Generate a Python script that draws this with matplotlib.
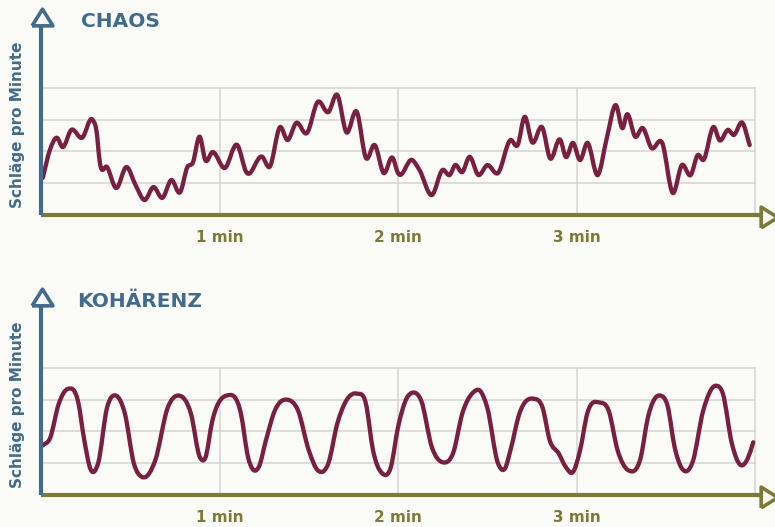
import numpy as np
import matplotlib
matplotlib.use('Agg')
import matplotlib.pyplot as plt
from matplotlib.path import Path
from matplotlib.patches import PathPatch

# time in minutes, heart rate in grid units (unlabelled axis)
chaos_t = [0.01, 0.05, 0.09, 0.12, 0.17, 0.23, 0.29, 0.31, 0.33, 0.37, 0.42, 0.48, 0.53, 0.58,
           0.63, 0.68, 0.73, 0.78, 0.82, 0.85, 0.89, 0.92, 0.96, 1.03, 1.10, 1.15, 1.24, 1.28,
           1.34, 1.38, 1.43, 1.49, 1.55, 1.61, 1.66, 1.71, 1.77, 1.82, 1.87, 1.92, 1.97, 2.00,
           2.08, 2.12, 2.19, 2.25, 2.29, 2.32, 2.36, 2.40, 2.45, 2.50, 2.56, 2.63, 2.67, 2.71,
           2.75, 2.81, 2.85, 2.91, 2.94, 2.98, 3.02, 3.06, 3.12, 3.17, 3.22, 3.26, 3.28, 3.33,
           3.37, 3.42, 3.48, 3.54, 3.59, 3.64, 3.68, 3.71, 3.77, 3.80, 3.85, 3.88, 3.93, 3.97]
chaos_v = [1.17, 2.05, 2.43, 2.14, 2.68, 2.43, 2.99, 2.68, 1.64, 1.51, 0.85, 1.51, 0.94, 0.47,
           0.88, 0.54, 1.10, 0.72, 1.51, 1.64, 2.46, 1.73, 1.98, 1.48, 2.20, 1.35, 1.83, 1.51,
           2.77, 2.36, 2.90, 2.58, 3.56, 3.24, 3.78, 2.61, 3.24, 1.80, 2.20, 1.32, 1.80, 1.32,
           1.73, 1.42, 0.63, 1.42, 1.26, 1.57, 1.35, 1.83, 1.26, 1.57, 1.32, 2.36, 2.20, 3.09,
           2.30, 2.74, 1.80, 2.36, 1.83, 2.27, 1.73, 2.27, 1.26, 2.43, 3.46, 2.74, 3.15, 2.46,
           2.74, 2.11, 2.27, 0.69, 1.57, 1.26, 1.89, 1.73, 2.77, 2.36, 2.68, 2.52, 2.90, 2.20]

koh_t = [0.01, 0.05, 0.10, 0.15, 0.21, 0.24, 0.28, 0.32, 0.37, 0.42, 0.47, 0.52, 0.57, 0.64,
         0.71, 0.77, 0.84, 0.89, 0.92, 0.96, 1.04, 1.12, 1.16, 1.22, 1.26, 1.31, 1.38, 1.44,
         1.50, 1.55, 1.61, 1.66, 1.71, 1.77, 1.82, 1.86, 1.91, 1.96, 2.00, 2.05, 2.08, 2.13,
         2.19, 2.25, 2.31, 2.36, 2.42, 2.46, 2.50, 2.56, 2.60, 2.63, 2.68, 2.76, 2.81, 2.85,
         2.90, 2.94, 2.98, 3.02, 3.06, 3.13, 3.18, 3.23, 3.29, 3.36, 3.40, 3.47, 3.51, 3.55,
         3.59, 3.65, 3.71, 3.78, 3.82, 3.87, 3.92, 3.96, 3.99]
koh_v = [1.56, 1.78, 2.88, 3.34, 2.88, 1.81, 0.78, 1.00, 2.75, 3.13, 2.56, 1.00, 0.56, 1.09,
         2.75, 3.13, 2.56, 1.19, 1.16, 2.34, 3.13, 2.56, 1.19, 0.88, 1.72, 2.66, 3.00, 2.66,
         1.41, 0.78, 1.00, 2.25, 2.97, 3.19, 2.88, 1.41, 0.69, 0.88, 2.13, 3.06, 3.22, 2.97,
         1.50, 1.03, 1.34, 2.56, 3.22, 3.28, 2.75, 1.00, 0.84, 1.41, 2.56, 3.03, 2.75, 1.72,
         1.31, 0.88, 0.72, 1.41, 2.56, 2.91, 2.66, 1.41, 0.78, 1.19, 2.44, 3.13, 2.81, 1.50,
         0.84, 1.03, 2.66, 3.44, 3.19, 1.63, 0.94, 1.16, 1.66]

minute_ticks = [1, 2, 3]
minute_labels = ['1 min', '2 min', '3 min']
grid_levels = [1, 2, 3, 4]

BG = '#fbfbf7'
BLUE = '#416b8f'
OLIVE = '#7c7b34'
WINE = '#7a1f40'
GRID = '#d5d5d5'

plt.rcParams['font.family'] = ['DejaVu Sans']

UP = [(-1.25, -1), (1.25, -1), (0, 1), (-1.25, -1)]
RIGHT = [(-1, -1.25), (-1, 1.25), (1, 0), (-1, -1.25)]


def smooth_path(t, v):
    # cubic Hermite through the read points (time as parameter), as Bezier segments
    t = np.asarray(t, float)
    v = np.asarray(v, float)
    m = np.gradient(v, t)
    verts = [(t[0], v[0])]
    codes = [Path.MOVETO]
    for i in range(len(t) - 1):
        h = (t[i + 1] - t[i]) / 3
        verts += [(t[i] + h, v[i] + m[i] * h),
                  (t[i + 1] - h, v[i + 1] - m[i + 1] * h),
                  (t[i + 1], v[i + 1])]
        codes += [Path.CURVE4] * 3
    return Path(verts, codes)


def draw_panel(ax, t, v, title, title_x):
    ax.set_facecolor(BG)
    ax.set_xlim(0, 4.112)
    ax.set_ylim(0, 6.61)
    for s in ax.spines.values():
        s.set_visible(False)
    ax.set_yticks([])
    ax.set_xticks(minute_ticks, minute_labels)
    ax.tick_params(axis='x', length=0, pad=11, labelsize=11, labelcolor=OLIVE)
    for lab in ax.get_xticklabels():
        lab.set_fontweight('bold')

    # grid box
    for g in grid_levels:
        ax.plot([0, 4], [g, g], color=GRID, lw=1.1, zorder=1)
    for m in minute_ticks + [4]:
        ax.plot([m, m], [0, 4], color=GRID, lw=1.1, zorder=1)

    ax.add_patch(PathPatch(smooth_path(t, v), fill=False, edgecolor=WINE, lw=3.1,
                           capstyle='round', joinstyle='round', zorder=3))

    # axes with hollow arrowheads
    ax.plot([0, 4.03], [0, 0], color=OLIVE, lw=3, zorder=4, clip_on=False,
            solid_capstyle='butt')
    ax.plot([4.08], [-0.05], marker=RIGHT, ms=15, mfc=BG, mec=OLIVE, mew=2.6,
            zorder=5, clip_on=False)
    ax.plot([0, 0], [0, 5.95], color=BLUE, lw=3, zorder=4, clip_on=False,
            solid_capstyle='butt')
    ax.plot([0.005], [6.24], marker=UP, ms=15, mfc=BG, mec=BLUE, mew=2.6,
            zorder=5, clip_on=False)

    ax.text(title_x, 6.1, title, color=BLUE, fontsize=14.5, fontweight='bold',
            va='center', ha='left')
    ax.set_ylabel('Schläge pro Minute', color=BLUE, fontsize=11, fontweight='bold')
    ax.yaxis.set_label_coords(-0.09, 2.85, transform=ax.transData)


fig = plt.figure(figsize=(7.75, 5.27), dpi=100, facecolor=BG)
W, H = 775, 527
ax1 = fig.add_axes([41 / W, (H - 215) / H, 734 / W, 210 / H])
ax2 = fig.add_axes([41 / W, (H - 495) / H, 734 / W, 210 / H])

draw_panel(ax1, chaos_t, chaos_v, 'CHAOS', 0.225)
draw_panel(ax2, koh_t, koh_v, 'KOHÄRENZ', 0.2)

fig.savefig('out.png', dpi=100, facecolor=BG)
